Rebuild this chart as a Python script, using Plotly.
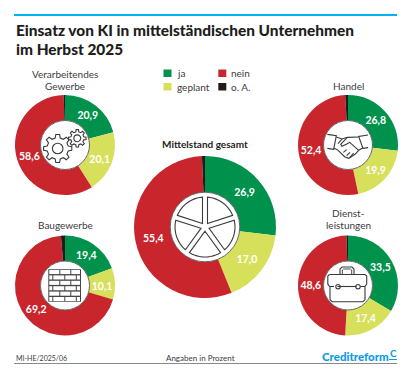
import math
import plotly.graph_objects as go

W, H = 412, 378
categories = ["ja", "geplant", "nein", "o. A."]
verarbeitend = [20.9, 20.1, 58.6, 0.4]
handel = [26.8, 19.9, 52.4, 0.9]
bau = [19.4, 10.1, 69.2, 1.3]
dienst = [33.5, 17.4, 48.6, 0.5]
gesamt = [26.9, 17.0, 55.4, 0.7]
colors = ["#00924C", "#D7E05A", "#C9252C", "#1D1D1B"]
FONT = "Lato"
TXT = "#3C3C3C"
ICON = "#3A3A3A"

donuts = [
    (verarbeitend, 65, 145, 50),
    (handel, 348, 145, 50),
    (bau, 65, 285.5, 50),
    (dienst, 348, 285.5, 50),
    (gesamt, 205, 227, 71),
]

fig = go.Figure()
shapes, annos = [], []


def fx(x):
    return x / W


def fy(y):
    return 1 - y / H


def poly(pts, close=False, color=ICON, width=1.1, fill=None):
    d = "M" + " L".join(f"{fx(x):.5f},{fy(y):.5f}" for x, y in pts) + (" Z" if close else "")
    shapes.append(dict(type="path", xref="paper", yref="paper", path=d,
                       line=dict(color=color, width=width),
                       fillcolor=fill if fill else "rgba(0,0,0,0)"))


def circle(cx, cy, r, color=ICON, width=1.1, fill=None):
    shapes.append(dict(type="circle", xref="paper", yref="paper",
                       x0=fx(cx - r), x1=fx(cx + r), y0=fy(cy + r), y1=fy(cy - r),
                       line=dict(color=color, width=width),
                       fillcolor=fill if fill else "rgba(0,0,0,0)"))


def rect(x0, y0, x1, y1, fill, line=None, width=0):
    shapes.append(dict(type="rect", xref="paper", yref="paper",
                       x0=fx(x0), x1=fx(x1), y0=fy(y1), y1=fy(y0),
                       line=dict(color=line or fill, width=width), fillcolor=fill))


def text(x, y, s, size=10, weight="normal", color=TXT, anchor="center", font=FONT):
    annos.append(dict(x=fx(x), y=fy(y), xref="paper", yref="paper", text=s,
                      showarrow=False, xanchor=anchor, yanchor="middle",
                      borderpad=0, font=dict(family=font, size=size, color=color, weight=weight)))


for vals, cx, cy, r in donuts:
    fig.add_trace(go.Pie(
        labels=categories, values=vals, sort=False, direction="clockwise", rotation=0,
        hole=0.49, marker=dict(colors=colors, line=dict(width=0)),
        domain=dict(x=[fx(cx - r), fx(cx + r)], y=[fy(cy + r), fy(cy - r)]),
        text=[f"{v:.1f}".replace(".", ",") if v > 5 else "" for v in vals],
        textinfo="text", textposition="inside", insidetextorientation="horizontal",
        insidetextfont=dict(family=FONT, size=10.5, color="white", weight="bold"),
        showlegend=False, hoverinfo="label+value"))
    circle(cx, cy, r * 0.49, color="#666666", width=1, fill="white")


def gear(cx, cy, ro, ri, rh, n):
    pts = []
    for i in range(n):
        a = 2 * math.pi * i / n
        s = 2 * math.pi / n
        for da, rr in [(-0.30, ri), (-0.17, ro), (0.17, ro), (0.30, ri)]:
            t = a + da * s
            pts.append((cx + rr * math.cos(t), cy + rr * math.sin(t)))
    poly(pts, close=True)
    circle(cx, cy, rh)


gear(57.7, 148.5, 14.2, 10.8, 5.3, 8)
gear(77.3, 138.3, 8.8, 6.6, 3.4, 8)


def z7(p):
    return [(318 + x / 3, 115 + y / 3) for x, y in p]


for p in [
    [(28, 58), (55, 62), (47, 103), (28, 100)],
    [(150, 60), (122, 64), (135, 100), (150, 98)],
    [(55, 66), (72, 72), (88, 67), (122, 66)],
    [(88, 67), (68, 88), (72, 94), (85, 88), (95, 82), (122, 106), (135, 98)],
    [(48, 100), (58, 104), (80, 125), (92, 130), (100, 125), (112, 117), (122, 106)],
    [(72, 72), (60, 86)],
    [(76, 112), (86, 104)],
    [(86, 122), (96, 112)],
    [(95, 128), (107, 114)],
]:
    poly(z7(p))

rect(48.3, 269.3, 81, 301.7, fill="#444444")
row_h = 32.4 / 6
for row in range(6):
    y0 = 269.3 + row * row_h + 0.7
    y1 = y0 + row_h - 1.3
    spans = [(1, 11), (12, 22), (23, 31.7)] if row % 2 == 0 else [(5, 16), (17, 27.5), (28.5, 31.7)]
    if row % 2:
        spans = [(1, 4)] + spans
    for a, b in spans:
        rect(48.3 + a, y0, 48.3 + b, y1, fill="white")

poly([(340, 274), (340, 269), (342, 267), (352, 267), (354, 269), (354, 274)])
poly([(342.3, 274), (342.3, 270), (343.5, 269), (350.5, 269), (351.7, 270), (351.7, 274)], width=0.9)
poly([(329.5, 274.5), (365, 274.5), (366.7, 276), (366.7, 284), (365, 286.5), (360.5, 286.5)])
poly([(329.5, 274.5), (327.8, 276), (327.8, 284), (329.5, 286.5), (334, 286.5)])
poly([(337.5, 286.5), (356.5, 286.5)])
poly([(330, 287), (330, 299.5), (332, 301.7), (363, 301.7), (365, 299.5), (365, 287)])
circle(338, 286.7, 2.2)
circle(358, 286.7, 2.2)

c_x, c_y, r_out, off = 205, 227, 30, 2.5
for i in range(5):
    mid = math.radians(-90 + 36 + 72 * i)
    start, end = mid - math.radians(36), mid + math.radians(36)
    da = math.asin(off / r_out)
    apex = off / math.sin(math.radians(36))
    pts = [(c_x + apex * math.cos(mid), c_y + apex * math.sin(mid))]
    for k in range(13):
        t = start + da + (end - start - 2 * da) * k / 12
        pts.append((c_x + r_out * math.cos(t), c_y + r_out * math.sin(t)))
    poly(pts, close=True, width=1.1)

rect(14, 14, 397, 16, fill="#00B4F0")
rect(14, 363, 397, 364, fill="#8A8A8A")
poly([(389, 359.5), (397, 359.5)], color="#0A9BE6", width=1)

for (x, y), c in zip([(163.5, 69.5), (163.5, 83), (218.3, 69.5), (218.3, 83)], colors):
    rect(x, y, x + 8, y + 7.5, fill=c)
for (x, y), c in zip([(176, 73.5), (176, 87), (230, 73.5), (230, 87)], categories):
    text(x, y, c, size=10, anchor="left")

text(15, 30, "Einsatz von KI in mittelständischen Unternehmen", size=15.4, weight=900, color="#1D1D1B", anchor="left")
text(15, 48.5, "im Herbst 2025", size=15.4, weight=900, color="#1D1D1B", anchor="left")
text(65, 74, "Verarbeitendes")
text(65, 86, "Gewerbe")
text(348, 86, "Handel")
text(65, 225, "Baugewerbe")
text(348, 213, "Dienst-")
text(348, 225, "leistungen")
text(205, 143.5, "Mittelstand gesamt", size=10, weight="bold", color="#1D1D1B")
text(15, 357.5, "MI-HE/2025/06", size=7, anchor="left")
text(200.5, 357.5, "Angaben in Prozent", size=8)
text(321, 356, "Creditreform", size=11.5, weight=900, color="#0A9BE6", anchor="left")
text(393.5, 353, "C", size=10, weight="bold", color="#0A9BE6")

fig.update_layout(width=W, height=H, margin=dict(l=0, r=0, t=0, b=0), paper_bgcolor="white",
                  plot_bgcolor="white", shapes=shapes, annotations=annos, showlegend=False,
                  font=dict(family=FONT))
fig.write_html("out.html", config=dict(displayModeBar=False),
               post_script="document.body.style.margin='0';")
